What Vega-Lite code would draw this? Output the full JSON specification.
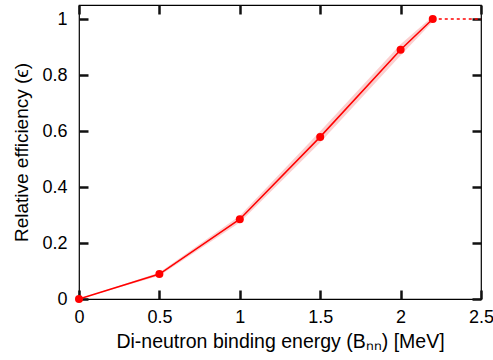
{
  "$schema": "https://vega.github.io/schema/vega-lite/v6.json",
  "width": 402,
  "height": 294,
  "autosize": {"type": "none"},
  "padding": {"left": 79, "top": 5, "right": 12, "bottom": 61},
  "background": "white",
  "config": {
    "view": {"stroke": "black", "strokeWidth": 1.2},
    "font": "Liberation Sans",
    "axis": {
      "grid": false,
      "domain": false,
      "labelFont": "Liberation Sans",
      "labelFontSize": 18,
      "labelColor": "black",
      "titleFont": "Liberation Sans",
      "titleFontSize": 19,
      "titleFontWeight": "normal",
      "titleColor": "black",
      "format": "~g"
    }
  },
  "datasets": {
    "main": [
      {"B": 0, "eff": 0, "lo": 0, "hi": 0},
      {"B": 0.5, "eff": 0.089, "lo": 0.083, "hi": 0.095},
      {"B": 1, "eff": 0.285, "lo": 0.273, "hi": 0.297},
      {"B": 1.5, "eff": 0.579, "lo": 0.559, "hi": 0.599},
      {"B": 2, "eff": 0.89, "lo": 0.87, "hi": 0.91},
      {"B": 2.2, "eff": 1.0, "lo": 0.99, "hi": 1.01}
    ],
    "ext": [
      {"B": 2.2, "eff": 1.0},
      {"B": 2.5, "eff": 1.0}
    ]
  },
  "layer": [
    {
      "data": {"name": "main"},
      "mark": {"type": "area", "color": "#fbcaca", "opacity": 0.9},
      "encoding": {
        "x": {"field": "B", "type": "quantitative", "scale": {"domain": [0, 2.5], "nice": false},
          "axis": {"title": "Di-neutron binding energy (Bₙₙ) [MeV]", "values": [0, 0.5, 1, 1.5, 2, 2.5], "ticks": true, "tickSize": 9, "offset": -9, "tickColor": "#111111", "tickWidth": 2.5, "labelPadding": 9, "titlePadding": 6, "titleFontSize": 19.5, "labelFlush": false}},
        "y": {"field": "lo", "type": "quantitative", "scale": {"domain": [0, 1.05], "nice": false},
          "axis": {"title": "Relative efficiency (ϵ)", "values": [0, 0.2, 0.4, 0.6, 0.8, 1], "ticks": true, "tickSize": 9, "offset": -9, "tickColor": "#111111", "tickWidth": 2.5, "labelPadding": 12, "titlePadding": 10, "labelFlush": false}},
        "y2": {"field": "hi"}
      }
    },
    {
      "data": {"name": "main"},
      "mark": {"type": "line", "color": "#ff0000", "strokeWidth": 1.5},
      "encoding": {
        "x": {"field": "B", "type": "quantitative", "axis": null},
        "y": {"field": "eff", "type": "quantitative", "axis": null}
      }
    },
    {
      "data": {"name": "ext"},
      "mark": {"type": "line", "color": "#ff0000", "strokeWidth": 1.5, "strokeDash": [3, 3]},
      "encoding": {
        "x": {"field": "B", "type": "quantitative", "axis": null},
        "y": {"field": "eff", "type": "quantitative", "axis": null}
      }
    },
    {
      "data": {"name": "main"},
      "mark": {"type": "point", "filled": true, "color": "#ff0000", "opacity": 1, "size": 64},
      "encoding": {
        "x": {"field": "B", "type": "quantitative", "axis": null},
        "y": {"field": "eff", "type": "quantitative", "axis": null}
      }
    },
    {
      "data": {"name": "ext"},
      "mark": {"type": "point", "opacity": 0},
      "encoding": {
        "x": {"field": "B", "type": "quantitative",
          "axis": {"orient": "top", "labels": false, "title": null, "values": [0, 0.5, 1, 1.5, 2, 2.5], "ticks": true, "tickSize": 9, "offset": -9, "tickColor": "#111111", "tickWidth": 2.5}},
        "y": {"field": "eff", "type": "quantitative",
          "axis": {"orient": "right", "labels": false, "title": null, "values": [0, 0.2, 0.4, 0.6, 0.8, 1], "ticks": true, "tickSize": 9, "offset": -9, "tickColor": "#111111", "tickWidth": 2.5}}
      }
    }
  ],
  "resolve": {"axis": {"x": "independent", "y": "independent"}}
}
